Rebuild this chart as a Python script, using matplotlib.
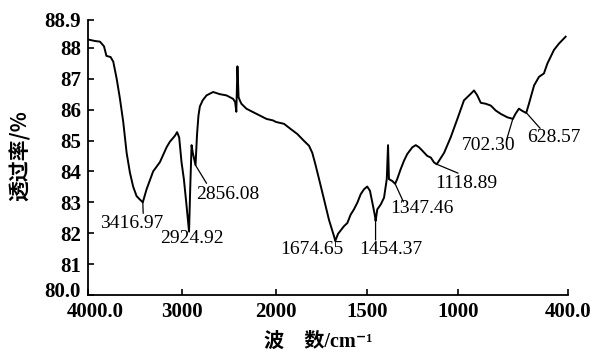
import numpy as np
import matplotlib
matplotlib.use("Agg")
import matplotlib.pyplot as plt
from matplotlib.transforms import ScaledTranslation

# ---------------- data ----------------
wavenumber = [4000, 3926, 3873, 3830, 3804, 3759, 3731, 3695, 3660, 3625,
              3589, 3554, 3519, 3483, 3448, 3417, 3377, 3307, 3235, 3164,
              3129, 3076, 3052, 3030, 3005, 2980, 2955, 2925, 2912, 2898,
              2885, 2856, 2840, 2825, 2810, 2780, 2739, 2669, 2598, 2527,
              2457, 2435, 2422, 2410, 2398, 2385, 2368, 2315, 2245, 2173,
              2102, 2032, 2000, 1956, 1919, 1883, 1847, 1819, 1801, 1782,
              1764, 1737, 1710, 1682, 1675, 1660, 1627, 1609, 1591, 1573,
              1554, 1536, 1518, 1500, 1485, 1472, 1459, 1454, 1445, 1426,
              1408, 1393, 1386, 1381, 1363, 1347, 1336, 1317, 1299, 1281,
              1253, 1234, 1216, 1198, 1171, 1152, 1134, 1119, 1079, 1043,
              1006, 970, 933, 915, 897, 878, 851, 823, 796, 768,
              732, 702, 688, 669, 651, 629, 614, 586, 559, 532,
              513, 477, 449, 413]
transmittance = [88.27, 88.22, 88.20, 88.05, 87.74, 87.70, 87.55, 87.00, 86.35, 85.60,
                 84.60, 83.96, 83.50, 83.20, 83.09, 83.00, 83.42, 84.00, 84.30, 84.78,
                 84.96, 85.15, 85.27, 85.10, 84.30, 83.75, 83.00, 82.05, 83.50, 84.85,
                 84.60, 84.20, 85.20, 85.80, 86.10, 86.30, 86.46, 86.57, 86.50, 86.46,
                 86.35, 86.25, 85.93, 87.40, 86.40, 86.30, 86.19, 86.03, 85.92, 85.81,
                 85.70, 85.65, 85.60, 85.54, 85.37, 85.21, 84.99, 84.83, 84.60, 84.18,
                 83.75, 83.10, 82.44, 81.90, 81.75, 81.98, 82.23, 82.33, 82.60, 82.77,
                 82.99, 83.26, 83.42, 83.51, 83.37, 82.99, 82.60, 82.40, 82.77, 82.93,
                 83.15, 83.75, 84.85, 83.75, 83.69, 83.60, 83.75, 84.07, 84.34, 84.56,
                 84.78, 84.85, 84.78, 84.67, 84.50, 84.45, 84.29, 84.23, 84.60, 85.10,
                 85.70, 86.30, 86.51, 86.62, 86.46, 86.22, 86.19, 86.13, 85.97, 85.86,
                 85.75, 85.70, 85.86, 86.03, 85.96, 85.89, 86.19, 86.78, 87.06, 87.17,
                 87.49, 87.93, 88.14, 88.36]

peak_wn = [3416.97, 2924.92, 2856.08, 1674.65, 1454.37, 1347.46, 1118.89, 702.30, 628.57]
peak_labels = ["3416.97", "2924.92", "2856.08", "1674.65", "1454.37",
               "1347.46", "1118.89", "702.30", "628.57"]

x_ticks = [4000, 3000, 2000, 1500, 1000, 400]
x_tick_labels = ["4000.0", "3000", "2000", "1500", "1000", "400.0"]
y_ticks = [80, 81, 82, 83, 84, 85, 86, 87, 88, 88.9]
y_tick_labels = ["80.0", "81", "82", "83", "84", "85", "86", "87", "88", "88.9"]

# ---------------- layout ----------------
W, H = 595, 353
fig = plt.figure(figsize=(W / 100, H / 100), dpi=100)
ax = fig.add_axes([88 / W, 1 - 295 / H, 480 / W, 275 / H])

K = 0.515  # compression of the region above 2000 cm-1


def fwd(x):
    x = np.asarray(x, dtype=float)
    return np.where(x > 2000, 2000 + (x - 2000) * K, x)


def inv(t):
    t = np.asarray(t, dtype=float)
    return np.where(t > 2000, 2000 + (t - 2000) / K, t)


ax.set_xscale("function", functions=(fwd, inv))
ax.plot(wavenumber, transmittance, color="black", lw=1.4, solid_joinstyle="round")
ax.set_xlim(4000, 400)
ax.set_ylim(80, 88.9)

for s in ("top", "right"):
    ax.spines[s].set_visible(False)
for s in ("left", "bottom"):
    ax.spines[s].set_linewidth(1.3)

tick_font = dict(family="Liberation Serif", weight="bold", size=15)
ax.set_xticks(x_ticks)
ax.set_xticklabels(x_tick_labels, fontdict=tick_font)
ax.set_yticks(y_ticks)
ax.set_yticklabels(y_tick_labels, fontdict=tick_font)
ax.xaxis.set_minor_locator(matplotlib.ticker.NullLocator())
ax.tick_params(direction="in", length=4, width=1.2, pad=5)

# nudge the two corner labels apart, as in the reference
xl0 = ax.get_xticklabels()[0]
xl0.set_transform(xl0.get_transform() + ScaledTranslation(7 / 100, 0, fig.dpi_scale_trans))
yl0 = ax.get_yticklabels()[0]
yl0.set_transform(yl0.get_transform() + ScaledTranslation(0, 5 / 100, fig.dpi_scale_trans))

# ---------------- annotations ----------------
wn_rev = np.array(wavenumber[::-1], dtype=float)
tr_rev = np.array(transmittance[::-1], dtype=float)
peak_t = np.interp(peak_wn, wn_rev, tr_rev)

label_pos = [(0.091, 0.259), (0.217, 0.207), (0.291, 0.364), (0.467, 0.164),
             (0.631, 0.164), (0.695, 0.313), (0.7875, 0.406), (0.835, 0.543),
             (0.971, 0.573)]
# leader end: ('a', fx, fy) axes fraction; ('v', fy) vertical; None
leader_end = [("a", 0.115, 0.297), None, ("a", 0.247, 0.406), ("v", 0.194),
              ("v", 0.200), ("a", 0.657, 0.339), ("a", 0.771, 0.443),
              ("a", 0.872, 0.564), ("a", 0.942, 0.606)]

ann_font = dict(family="Liberation Serif", size=14)
for wn, tv, lab, (fx, fy), le in zip(peak_wn, peak_t, peak_labels, label_pos, leader_end):
    ax.text(fx, fy, lab, transform=ax.transAxes, ha="center", va="center",
            fontdict=ann_font)
    if le is None:
        continue
    if le[0] == "a":
        ax.annotate("", xy=(wn, tv), xytext=(le[1], le[2]), textcoords="axes fraction",
                    arrowprops=dict(arrowstyle="-", lw=0.9, color="black",
                                    shrinkA=0, shrinkB=0))
    else:
        ax.annotate("", xy=(wn, tv), xytext=(wn, le[1]),
                    textcoords=("data", "axes fraction"),
                    arrowprops=dict(arrowstyle="-", lw=0.9, color="black",
                                    shrinkA=0, shrinkB=0))

# ---------------- axis titles ----------------
fam = ["Liberation Serif", "Noto Sans CJK SC", "DejaVu Sans"]
fig.text(20 / W, 1 - 156 / H, "透过率/%", rotation=90, ha="center", va="center",
         family=["Noto Sans CJK SC", "DejaVu Sans"], weight="bold", size=15)
fig.text(318 / W, 1 - 342 / H, "波\u3000数/cm\u207b\u00b9", ha="center", va="center",
         family=fam, weight="bold", size=14.5)

fig.savefig("out.png", dpi=100)
